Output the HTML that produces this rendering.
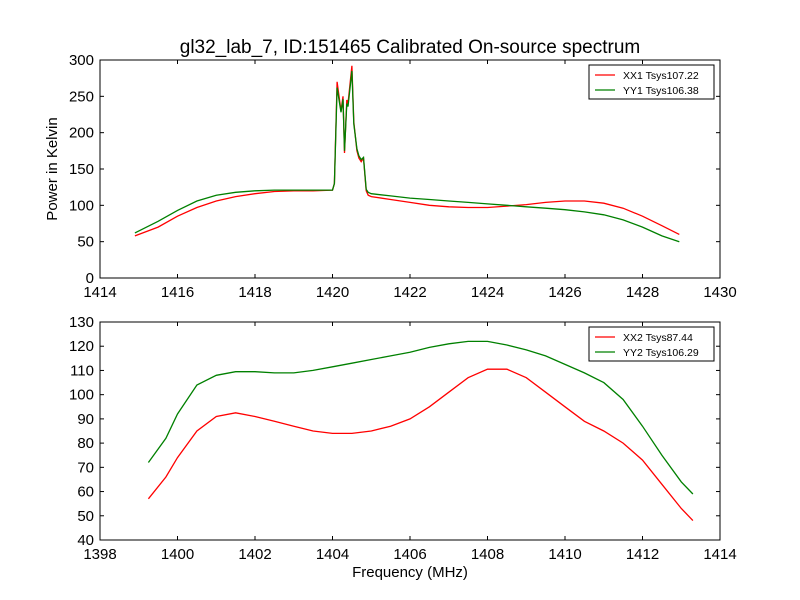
<!DOCTYPE html>
<html><head><meta charset="utf-8"><style>
body{margin:0;background:#fff}
svg{display:block;font-family:"Liberation Sans","DejaVu Sans",sans-serif}
</style></head><body>
<svg id="c" width="800" height="600" viewBox="0 0 800 600">
<rect width="800" height="600" fill="#fff"/>
<text x="410" y="53" font-size="19" text-anchor="middle">gl32_lab_7, ID:151465 Calibrated On-source spectrum</text>
<text x="410" y="577" font-size="15" text-anchor="middle">Frequency (MHz)</text>
<text transform="translate(57,169) rotate(-90)" font-size="15" text-anchor="middle">Power in Kelvin</text>
</svg>
<script>
const topXX1F=[1414.9,1415.5,1416,1416.5,1417,1417.5,1418,1418.5,1419,1419.5,1420,1420.05,1420.12,1420.22,1420.27,1420.31,1420.37,1420.4,1420.5,1420.55,1420.63,1420.68,1420.74,1420.8,1420.87,1420.92,1421,1421.5,1422,1422.5,1423,1423.5,1424,1424.5,1425,1425.5,1426,1426.5,1427,1427.5,1428,1428.5,1428.95];
const topXX1V=[58,70,85,97,106,112,116,119,120,120,121,130,270,230,250,172,245,240,292,215,175,165,160,165,120,114,112,108,104,100,98,97,97,99,101,104,106,106,103,96,85,72,60];
const topYY1F=[1414.9,1415.5,1416,1416.5,1417,1417.5,1418,1418.5,1419,1419.5,1420,1420.05,1420.12,1420.22,1420.27,1420.31,1420.37,1420.4,1420.5,1420.55,1420.63,1420.68,1420.74,1420.8,1420.87,1420.92,1421,1421.5,1422,1422.5,1423,1423.5,1424,1424.5,1425,1425.5,1426,1426.5,1427,1427.5,1428,1428.5,1428.95];
const topYY1V=[62,78,93,106,114,118,120,121,121,121,121,130,262,228,246,175,240,236,285,212,178,168,163,166,122,118,116,113,110,108,106,104,102,100,98,96,94,91,87,80,70,58,50];
const botF=[1399.25,1399.7,1400,1400.5,1401,1401.5,1402,1402.5,1403,1403.5,1404,1404.5,1405,1405.5,1406,1406.5,1407,1407.5,1408,1408.5,1409,1409.5,1410,1410.5,1411,1411.5,1412,1412.5,1413,1413.3];
const botXX2V=[57,66,74,85,91,92.5,91,89,87,85,84,84,85,87,90,95,101,107,110.5,110.5,107,101,95,89,85,80,73,63,53,48];
const botYY2V=[72,82,92,104,108,109.5,109.5,109,109,110,111.5,113,114.5,116,117.5,119.5,121,122,122,120.5,118.5,116,112.5,109,105,98,87,75,64,59];
const topXTicks=[1414,1416,1418,1420,1422,1424,1426,1428,1430];
const topYTicks=[0,50,100,150,200,250,300];
const botXTicks=[1398,1400,1402,1404,1406,1408,1410,1412,1414];
const botYTicks=[40,50,60,70,80,90,100,110,120,130];
const NS='http://www.w3.org/2000/svg';
const svg=document.getElementById('c');
function mk(t,a,p){const e=document.createElementNS(NS,t);for(const k in a)e.setAttribute(k,a[k]);(p||svg).appendChild(e);return e;}
function panel(top,x0,x1,y0,y1,xt,yt,series,legend,pname){
  const L=100,R=720,T=top,B=top+218;
  const sx=v=>L+(v-x0)/(x1-x0)*(R-L), sy=v=>B-(v-y0)/(y1-y0)*(B-T);
  const g=mk('g',{});
  
  
  series.forEach(s=>{
    const d=s.f.map((f,i)=>(i?'L':'M')+sx(f).toFixed(1)+','+sy(s.v[i]).toFixed(1)).join('');
    const p=mk('path',{d:d,fill:'none',stroke:s.c,'stroke-width':1.3},g);
    
    
  });
  const fr=mk('rect',{x:L,y:T,width:R-L,height:B-T,fill:'none',stroke:'#000','stroke-width':1},g);
  
  
  xt.forEach(v=>{const x=sx(v);
    mk('line',{x1:x,x2:x,y1:B,y2:B-4,stroke:'#000'},g);mk('line',{x1:x,x2:x,y1:T,y2:T+4,stroke:'#000'},g);
    const t=mk('text',{x:x,y:B+19,'font-size':15,'text-anchor':'middle'},g);t.textContent=v;
    
    });
  yt.forEach(v=>{const y=sy(v);
    mk('line',{x1:L,x2:L+4,y1:y,y2:y,stroke:'#000'},g);mk('line',{x1:R,x2:R-4,y1:y,y2:y,stroke:'#000'},g);
    const t=mk('text',{x:L-6,y:y+5,'font-size':15,'text-anchor':'end'},g);t.textContent=v;
    
    });
  const lg=mk('g',{},g);
  
  
  mk('rect',{x:589,y:T+5,width:125,height:34,fill:'#fff',stroke:'#000'},lg);
  legend.forEach((l,i)=>{const y=T+15+i*15;
    mk('line',{x1:595,x2:615,y1:y,y2:y,stroke:l.c,'stroke-width':1.3},lg);
    const t=mk('text',{x:623,y:y+4,'font-size':10.5},lg);t.textContent=l.t;
    
    });
}
panel(60,1414,1430,0,300,topXTicks,topYTicks,
 [{f:topXX1F,v:topXX1V,c:'#ff0000',name:'xx1-line'},{f:topYY1F,v:topYY1V,c:'#008000',name:'yy1-line'}],
 [{c:'#ff0000',t:'XX1 Tsys107.22'},{c:'#008000',t:'YY1 Tsys106.38'}],'top-panel');
panel(322,1398,1414,40,130,botXTicks,botYTicks,
 [{f:botF,v:botXX2V,c:'#ff0000',name:'xx2-line'},{f:botF,v:botYY2V,c:'#008000',name:'yy2-line'}],
 [{c:'#ff0000',t:'XX2 Tsys87.44'},{c:'#008000',t:'YY2 Tsys106.29'}],'bottom-panel');
</script>
</body></html>
